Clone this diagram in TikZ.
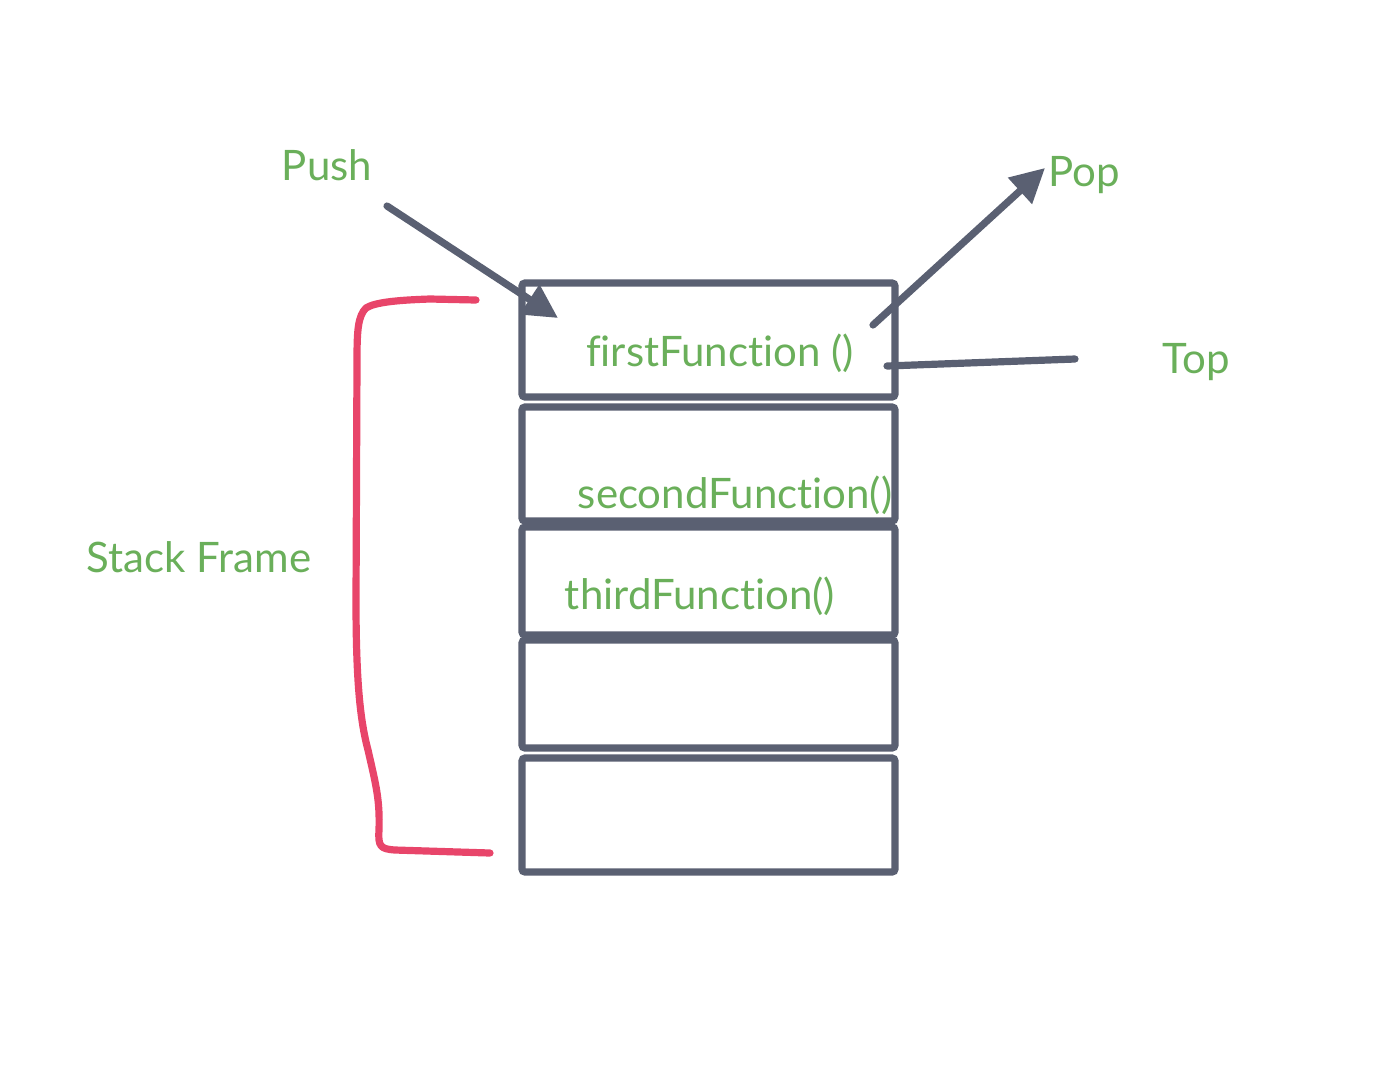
\documentclass[tikz,border=0pt]{standalone}
\usepackage{fontspec}
\setmainfont{Lato}[Ligatures={NoCommon,NoContextual}, RawFeature={-liga,-dlig,-clig}]
\usetikzlibrary{arrows.meta}
\definecolor{ink}{HTML}{5A6072}
\definecolor{lbl}{HTML}{6AAF5A}
\definecolor{brk}{HTML}{E8456A}
\tikzset{
  box/.style={draw=ink, line width=3.6pt, rounded corners=1.5pt, inner sep=0pt},
  lab/.style={text=lbl, font=\fontsize{21}{24}\selectfont, inner sep=0pt},
  conn/.style={draw=ink, line width=3.6pt, line cap=round},
  tip/.style={-{Triangle[length=17pt,width=17pt]}},
}
\begin{document}
\begin{tikzpicture}[x=0.5pt,y=-0.5pt]
\useasboundingbox (0,0) rectangle (1384,1072);
% stack boxes
\node[box, minimum width=186.5pt, minimum height=57pt] (b1) at (708.5,340) {};
\node[box, minimum width=186.5pt, minimum height=57pt] (b2) at (708.5,464) {};
\node[box, minimum width=186.5pt, minimum height=54pt] (b3) at (708.5,581) {};
\node[box, minimum width=186.5pt, minimum height=54pt] (b4) at (708.5,694) {};
\node[box, minimum width=186.5pt, minimum height=57pt] (b5) at (708.5,815) {};
% labels
\node[lab] (t1) at (720,353) {firstFunction ()};
\node[lab] (t2) at (735,495) {secondFunction()};
\node[lab] (t3) at (700,596) {thirdFunction()};
\node[lab] (push) at (327,165) {Push};
\node[lab, anchor=west] (pop) at (1048,175) {Pop};
\node[lab] (top) at (1196,362) {Top};
\node[lab] (sf) at (199,557) {Stack Frame};
% connectors
\coordinate (pushs) at (387,206);
\coordinate (pushe) at (558,318);
\draw[conn, tip] (pushs) -- (pushe);
\coordinate (pops) at (873,325);
\coordinate (pope) at (1045,168);
\draw[conn, tip] (pops) -- (pope);
\coordinate (tops) at (887,366);
\coordinate (tope) at (1075,359);
\draw[conn] (tops) -- (tope);
% bracket
\draw[brk, line width=3.6pt, line cap=round, line join=round]
  (476,300) -- (430,299) .. controls (400,300) and (375,302) .. (366,308)
  .. controls (358,316) and (357,330) .. (357,360)
  -- (356,600) .. controls (356,680) and (360,720) .. (368,750)
  .. controls (376,785) and (380,800) .. (379,830)
  .. controls (378,846) and (380,849) .. (395,850)
  -- (490,853);
\end{tikzpicture}
\end{document}
